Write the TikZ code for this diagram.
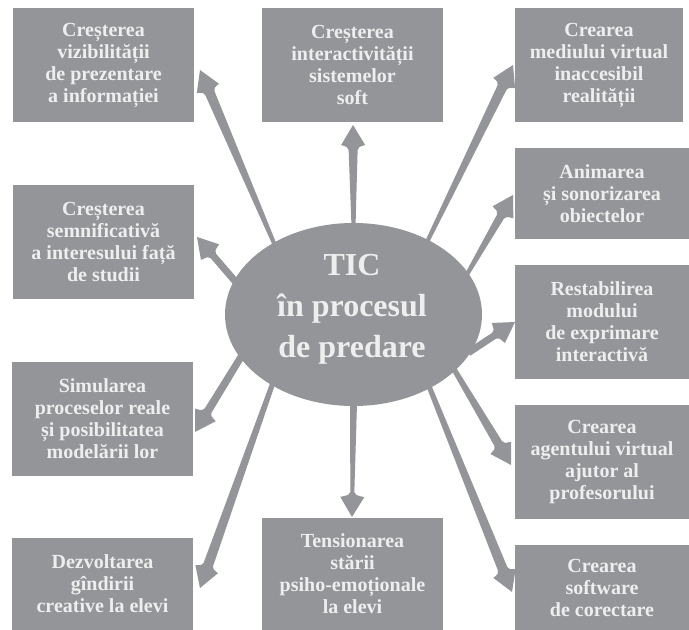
\documentclass[tikz,border=0pt]{standalone}
\usepackage{fontspec}
\setmainfont{Liberation Serif}
\usetikzlibrary{shapes.geometric,calc,backgrounds}
\definecolor{boxgray}{RGB}{147,149,152}
\definecolor{txtgray}{RGB}{238,238,238}
\newcommand{\tspike}[4]{%
  \path ($(#2)!25pt!(#1)$) coordinate (spN)
        ($(#2)!20pt!(#1)$) coordinate (spB)
        ($(#2)!22pt!(#1)$) coordinate (spC);
  \fill[spikefill]
    ($(#1)!#3!90:(#2)$) -- ($(spN)!#4!90:(#2)$)
    .. controls ($(spC)!#4+1pt!90:(#2)$) .. ($(spB)!12pt!90:(#2)$)
    -- (#2)
    -- ($(spB)!12pt!-90:(#2)$)
    .. controls ($(spC)!#4+1pt!-90:(#2)$) .. ($(spN)!#4!-90:(#2)$)
    -- ($(#1)!#3!-90:(#2)$) -- cycle;}
\begin{document}
\begin{tikzpicture}[x=1pt,y=1pt,
  infobox/.style={rectangle, fill=boxgray, text=txtgray, inner sep=0pt, outer sep=0pt,
    align=center, font=\bfseries\fontsize{20}{22}\selectfont},
  spikefill/.style={fill=boxgray},
  hub/.style={ellipse, fill=boxgray, inner sep=0pt, outer sep=0pt,
    minimum width=257pt, minimum height=183pt},
  hubtext/.style={text=txtgray, align=center, inner sep=0pt,
    font=\bfseries\fontsize{32}{41}\selectfont}]
\useasboundingbox (0,0) rectangle (689,630);

% boxes
\node[infobox, minimum width=181pt, minimum height=114pt] (b1) at (103.5,565)
  {Creșterea\\vizibilității\\de prezentare\\a informației};
\node[infobox, minimum width=181pt, minimum height=114pt] (b2) at (352.5,565)
  {Creșterea\\interactivității\\sistemelor\\soft};
\node[infobox, minimum width=168pt, minimum height=114pt] (b3) at (599,565)
  {Crearea\\mediului virtual\\inaccesibil\\realității};
\node[infobox, minimum width=181pt, minimum height=114pt] (b4) at (103.5,388)
  {Creșterea\\semnificativă\\a interesului față\\de studii};
\node[infobox, minimum width=174pt, minimum height=91pt] (b5) at (602,436.5)
  {Animarea\\și sonorizarea\\obiectelor};
\node[infobox, minimum width=174pt, minimum height=114pt] (b6) at (602,308)
  {Restabilirea\\modului\\de exprimare\\interactivă};
\node[infobox, minimum width=174pt, minimum height=114pt] (b7) at (602,168)
  {Crearea\\agentului virtual\\ajutor al\\profesorului};
\node[infobox, minimum width=174pt, minimum height=85pt] (b8) at (602,42.5)
  {Crearea\\software\\de corectare};
\node[infobox, minimum width=181pt, minimum height=112pt] (b9) at (352.5,56)
  {Tensionarea\\stării\\psiho-emoționale\\la elevi};
\node[infobox, minimum width=181pt, minimum height=92pt] (b10) at (102.5,46)
  {Dezvoltarea\\gîndirii\\creative la elevi};
\node[infobox, minimum width=181pt, minimum height=114pt] (b11) at (102.5,211)
  {Simularea\\proceselor reale\\și posibilitatea\\modelării lor};

% hub
\node[hub] (ell) at (353.5,315.5) {};
\node[hubtext] (ellt) at (352,321) {TIC\\în procesul\\de predare};

% arrow tips
\coordinate (t1) at (200,560);
\coordinate (t2) at (353,505);
\coordinate (t3) at (513,565);
\coordinate (t4) at (197,393);
\coordinate (t5) at (513,435);
\coordinate (t6) at (515,308);
\coordinate (t7) at (511,165);
\coordinate (t8) at (512,38);
\coordinate (t9) at (352,113);
\coordinate (t10) at (200,42);
\coordinate (t11) at (195,198);
% arrow starts (just inside the hub)
\coordinate (s1) at ($(ell.138)!-4pt!(t1)$);
\coordinate (s2) at ($(ell.90)!-4pt!(t2)$);
\coordinate (s3) at ($(ell.45)!-4pt!(t3)$);
\coordinate (s4) at ($(ell.164)!-4pt!(t4)$);
\coordinate (s5) at ($(ell.20)!-4pt!(t5)$);
\coordinate (s6) at ($(ell.-17)!-4pt!(t6)$);
\coordinate (s7) at ($(ell.-29.5)!-4pt!(t7)$);
\coordinate (s8) at ($(ell.-44.6)!-4pt!(t8)$);
\coordinate (s9) at ($(ell.-90)!-4pt!(t9)$);
\coordinate (s10) at ($(ell.221)!-4pt!(t10)$);
\coordinate (s11) at ($(ell.201.5)!-4pt!(t11)$);

\begin{scope}[on background layer]
  \fill[white] (0,0) rectangle (689,630);
  \tspike{s1}{t1}{2pt}{5pt}
  \tspike{s2}{t2}{2pt}{4.5pt}
  \tspike{s3}{t3}{2pt}{5pt}
  \tspike{s4}{t4}{3.5pt}{3.5pt}
  \tspike{s5}{t5}{2pt}{4pt}
  \tspike{s6}{t6}{3.5pt}{3.5pt}
  \tspike{s7}{t7}{2.5pt}{4.5pt}
  \tspike{s8}{t8}{2.5pt}{5pt}
  \tspike{s9}{t9}{3.5pt}{2pt}
  \tspike{s10}{t10}{2.5pt}{5pt}
  \tspike{s11}{t11}{3.5pt}{4pt}
\end{scope}
\end{tikzpicture}
\end{document}
